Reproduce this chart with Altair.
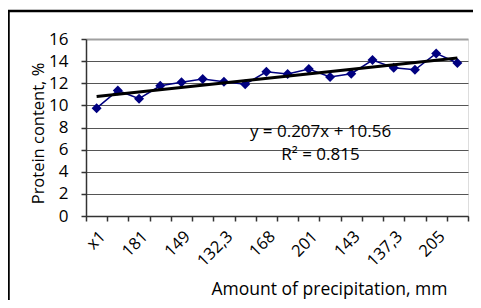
import altair as alt
import pandas as pd

# Categories (18 precipitation groups; Excel shows every other label)
cat_labels = ["x1", "", "181", "", "149", "", "132,3", "", "168", "",
              "201", "", "143", "", "137,3", "", "205", ""]
protein = [9.75, 11.35, 10.6, 11.77, 12.08, 12.38, 12.14, 11.92, 13.04,
           12.83, 13.28, 12.56, 12.86, 14.1, 13.4, 13.22, 14.7, 13.83]
eq_lines = ["y = 0.207x + 10.56", "R² = 0.815"]
eq_x = [11.55, 11.55]
eq_y = [7.6, 5.55]

FONT = "Open Sans"

df = pd.DataFrame({"idx": list(range(1, len(protein) + 1)), "value": protein})
ann = pd.DataFrame({"t": eq_lines, "idx": eq_x, "value": eq_y})
frame = pd.DataFrame({"a": [0]})

half_ticks = [i / 2 for i in range(1, 2 * len(protein) + 2)]

label_expr = ""
for i, lab in enumerate(cat_labels, start=1):
    if lab:
        label_expr += f"datum.value == {i} ? '{lab}' : "
label_expr += "''"

xscale = alt.Scale(domain=[0.5, len(protein) + 0.5], nice=False, zero=False)
yscale = alt.Scale(domain=[0, 16], nice=False)

xaxis = alt.Axis(
    values=half_ticks,
    title="Amount of precipitation, mm",
    labelExpr=label_expr,
    labelAngle=-45,
    labelOverlap=False,
    labelFlush=False,
    labelFont=FONT, labelFontSize=16.5, labelColor="#000",
    labelPadding=7,
    tickSize=5, tickColor="#333", tickWidth=1.5,
    tickOpacity={"condition": {"test": "datum.value % 1 == 0", "value": 0}, "value": 1},
    domainColor="#333", domainWidth=1.5,
    grid=False,
    titleFont=FONT, titleFontSize=17.5, titleFontWeight="normal", titleColor="#000",
    titleX=243, titleY=73, titleBaseline="middle", titleAlign="center",
)

yaxis = alt.Axis(
    values=list(range(0, 17, 2)),
    title="Protein content, %",
    labelOverlap=False,
    labelFont=FONT, labelFontSize=17, labelColor="#000",
    labelPadding=13,
    tickSize=5, tickColor="#333", tickWidth=1.5,
    domainColor="#333", domainWidth=1.5,
    grid=True, gridColor={"condition": {"test": "datum.value == 16", "value": "#a0a0a0"}, "value": "#555"},
    gridWidth={"condition": {"test": "datum.value == 16", "value": 2}, "value": 1},
    titleFont=FONT, titleFontSize=16.5, titleFontWeight="normal", titleColor="#000",
    titleX=-48, titleY=94, titleBaseline="middle", titleAlign="center",
)

base = alt.Chart(df)

line = base.mark_line(
    color="#000080", strokeWidth=1.5,
    point=alt.OverlayMarkDef(shape="diamond", size=100, filled=True, color="#000080", opacity=1),
)

trend = base.transform_regression("idx", "value").mark_line(
    color="#000", strokeWidth=3
)

text = alt.Chart(ann).mark_text(
    font=FONT, fontSize=17, color="#000", baseline="middle", align="center"
).encode(text="t:N")

border = alt.Chart(frame).mark_rect(
    fill=None, stroke="#000", strokeWidth=2.5, clip=False
).encode(
    x=alt.value(-77.5), x2=alt.value(600),
    y=alt.value(-28), y2=alt.value(500),
)

main = alt.layer(line, trend, text).encode(
    x=alt.X("idx:Q", scale=xscale, axis=xaxis),
    y=alt.Y("value:Q", scale=yscale, axis=yaxis),
)

chart = alt.layer(main, border).properties(
    width=382, height=177,
    autosize=alt.AutoSizeParams(type="none"),
    padding={"left": 78, "top": 31, "right": 5, "bottom": 84},
).configure_view(
    stroke="#a0a0a0", strokeWidth=2
).configure(background="white")

chart.save("out.html", embed_options={"renderer": "svg", "actions": False})
